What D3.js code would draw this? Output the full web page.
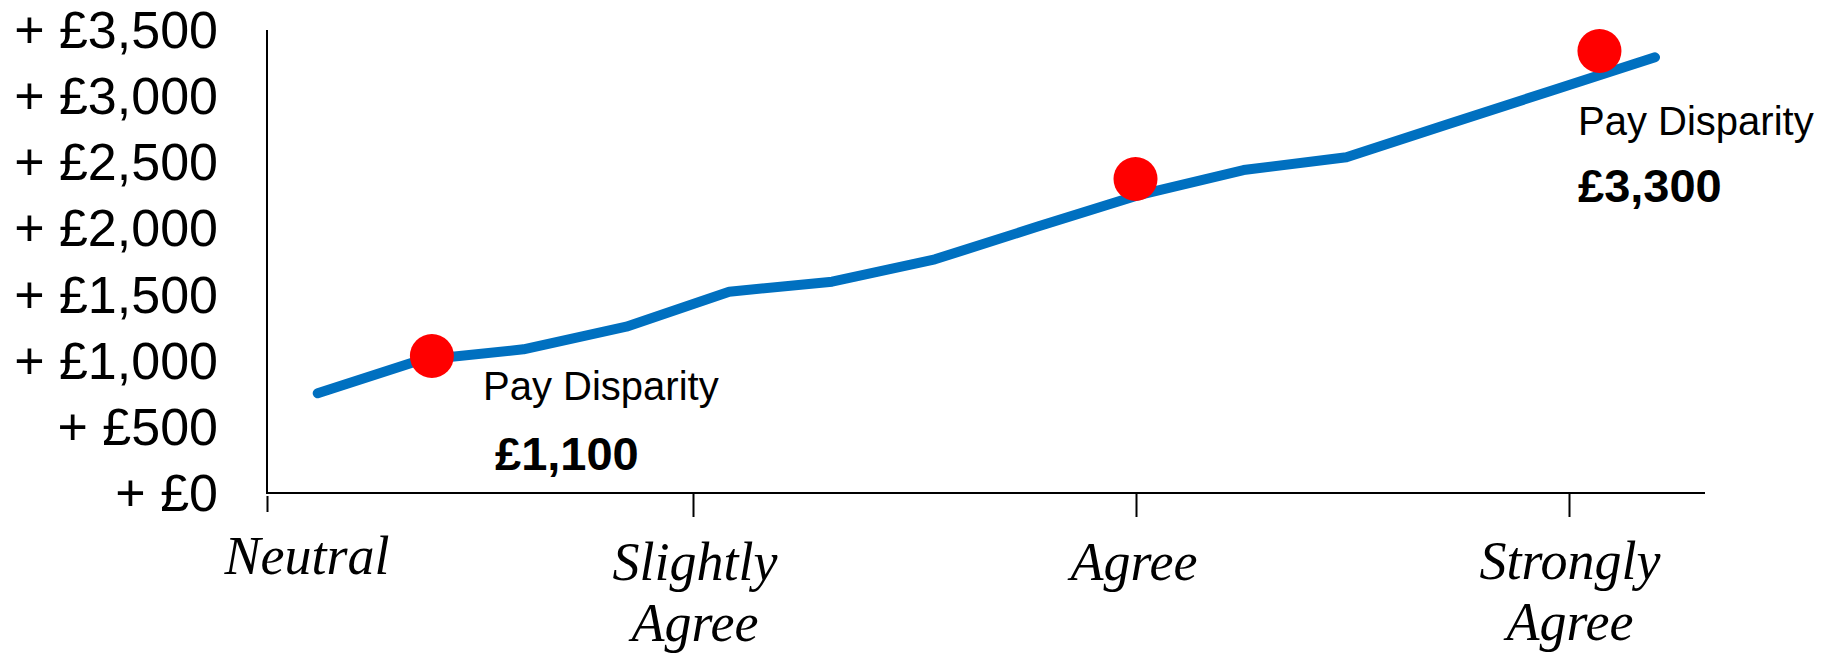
<!DOCTYPE html>
<html>
<head>
<meta charset="utf-8">
<script src="https://cdn.jsdelivr.net/npm/d3@7"></script>
<style>
  html, body { margin: 0; padding: 0; background: #fff; }
  svg { display: block; }
</style>
</head>
<body>
<svg id="chart" width="1831" height="654"></svg>
<script>
// ---- data ----
const categories = [["Neutral"], ["Slightly", "Agree"], ["Agree"], ["Strongly", "Agree"]];
const yTickValues = [0, 500, 1000, 1500, 2000, 2500, 3000, 3500];
const seriesIndex = [0, 1, 2, 3, 4, 5, 6, 7, 8, 9, 10, 11, 12, 13];
const seriesValues = [749, 1000, 1081, 1252, 1516, 1592, 1761, 2008, 2250, 2435, 2531, 2785, 3036, 3286];
const markerIndex = [1.11, 7.95, 12.46];
const markerValues = [1031, 2367, 3334];
const annotationTitles = ["Pay Disparity", "Pay Disparity"];
const annotationValues = ["£1,100", "£3,300"];

// ---- layout ----
const svg = d3.select("#chart");
svg.append("rect").attr("width", 1831).attr("height", 654).attr("fill", "#fff");

const axisX = 267, axisTop = 30, axisBottom = 493, axisRight = 1705;
const y = d3.scaleLinear().domain([0, 3500]).range([492.5, 29]);
const x = d3.scaleLinear().domain([0, 13]).range([317.7, 1655]);
const xCat = d3.scaleOrdinal().domain(d3.range(categories.length)).range([267, 693, 1136, 1569]);

// y axis line
svg.append("line")
  .attr("x1", axisX).attr("x2", axisX)
  .attr("y1", axisTop).attr("y2", axisBottom)
  .attr("stroke", "#000").attr("stroke-width", 2);

// y tick labels
const fmt = v => "+ £" + d3.format(",")(v);
svg.append("g").selectAll("text").data(yTickValues).join("text")
  .attr("x", 218)
  .attr("y", d => y(d))
  .attr("dy", "0.36em")
  .attr("text-anchor", "end")
  .attr("font-family", "'Liberation Sans', Arial, sans-serif")
  .attr("font-size", 52)
  .attr("fill", "#000")
  .text(fmt);

// x axis
svg.append("line")
  .attr("x1", axisX - 1).attr("x2", axisRight)
  .attr("y1", axisBottom).attr("y2", axisBottom)
  .attr("stroke", "#000").attr("stroke-width", 2);

const xAxisG = svg.append("g")
  .attr("transform", `translate(0,${axisBottom})`)
  .call(d3.axisBottom(xCat).tickSize(24).tickFormat(""));
xAxisG.select(".domain").remove();
xAxisG.selectAll(".tick line").attr("stroke", "#000").attr("stroke-width", 2);
xAxisG.selectAll(".tick").filter((d, i) => i === 0).select("line")
  .attr("y1", 3).attr("y2", 19);

// x labels
const labelShift = [40, 2, -2, 1];
const firstBaseline = [574, 580, 580, 579];
const lineGap = 61;
const catLabels = svg.append("g").selectAll("text").data(categories).join("text")
  .attr("text-anchor", "middle")
  .attr("font-family", "'Liberation Serif', 'Times New Roman', serif")
  .attr("font-style", "italic")
  .attr("font-size", 54)
  .attr("fill", "#000");
catLabels.each(function (lines, i) {
  const t = d3.select(this);
  lines.forEach((ln, j) => {
    t.append("tspan")
      .attr("x", xCat(i) + labelShift[i])
      .attr("y", firstBaseline[i] + j * lineGap)
      .text(ln);
  });
});

// line
const line = d3.line().x(d => x(d[0])).y(d => y(d[1]));
svg.append("path")
  .datum(seriesIndex.map((d, i) => [d, seriesValues[i]]))
  .attr("d", line)
  .attr("fill", "none")
  .attr("stroke", "#0070C0")
  .attr("stroke-width", 10)
  .attr("stroke-linecap", "round")
  .attr("stroke-linejoin", "round");

// markers
svg.append("g").selectAll("circle").data(markerIndex).join("circle")
  .attr("cx", d => x(d))
  .attr("cy", (d, i) => y(markerValues[i]))
  .attr("r", 22)
  .attr("fill", "#FF0000");

// annotations
const annotX = [483, 1578];
const annotTitleY = [400, 135];
const annotValX = [495, 1578];
const annotValY = [470, 202];
const ann = svg.append("g");
annotationTitles.forEach((t, i) => {
  ann.append("text")
    .attr("x", annotX[i]).attr("y", annotTitleY[i])
    .attr("font-family", "'Liberation Sans', Arial, sans-serif")
    .attr("font-size", 40)
    .attr("fill", "#000")
    .text(t);
  ann.append("text")
    .attr("x", annotValX[i]).attr("y", annotValY[i])
    .attr("font-family", "'Liberation Sans', Arial, sans-serif")
    .attr("font-weight", "bold")
    .attr("font-size", 47)
    .attr("fill", "#000")
    .text(annotationValues[i]);
});
</script>
</body>
</html>
